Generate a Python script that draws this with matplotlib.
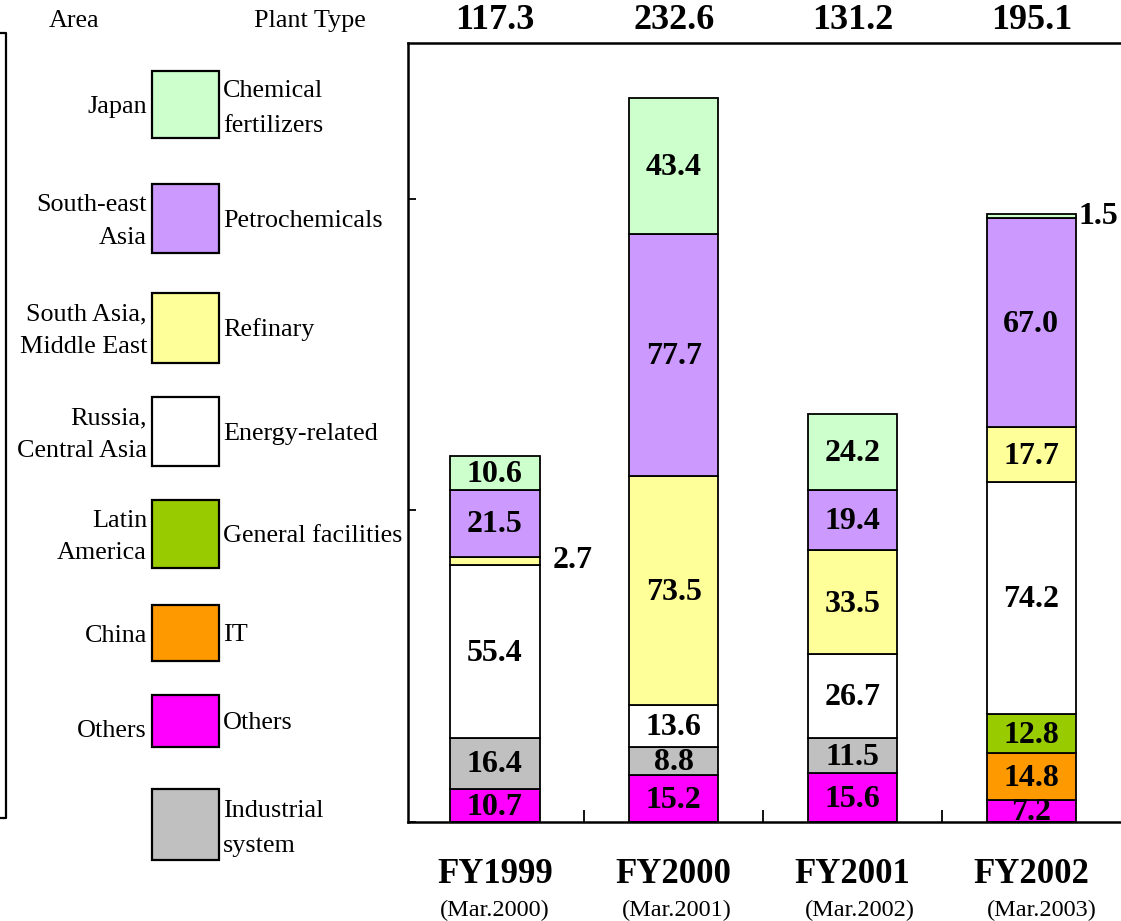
import matplotlib
matplotlib.use('Agg')
import matplotlib.pyplot as plt
import numpy as np
from matplotlib.patches import Rectangle
from matplotlib.lines import Line2D

plt.rcParams['font.family'] = ['Liberation Serif', 'DejaVu Serif']

# data
years = ['FY1999', 'FY2000', 'FY2001', 'FY2002']
periods = ['(Mar.2000)', '(Mar.2001)', '(Mar.2002)', '(Mar.2003)']
totals = [117.3, 232.6, 131.2, 195.1]

others = [10.7, 15.2, 15.6, 7.2]
industrial = [16.4, 8.8, 11.5, 0.0]
it_plant = [0.0, 0.0, 0.0, 14.8]
general = [0.0, 0.0, 0.0, 12.8]
energy = [55.4, 13.6, 26.7, 74.2]
refinary = [2.7, 73.5, 33.5, 17.7]
petrochem = [21.5, 77.7, 19.4, 67.0]
fertilizers = [10.6, 43.4, 24.2, 1.5]

# bottom -> top
series = [others, industrial, it_plant, general, energy, refinary, petrochem, fertilizers]
series_colors = ['#FF00FF', '#C0C0C0', '#FF9900', '#99CC00', '#FFFFFF',
                 '#FFFF99', '#CC99FF', '#CCFFCC']

# legend (top -> bottom)
plant_types = ['Chemical\nfertilizers', 'Petrochemicals', 'Refinary', 'Energy-related',
               'General facilities', 'IT', 'Others', 'Industrial\nsystem']
areas = ['Japan', 'South-east\nAsia', 'South Asia,\nMiddle East', 'Russia,\nCentral Asia',
         'Latin\nAmerica', 'China', 'Others', '']
legend_colors = ['#CCFFCC', '#CC99FF', '#FFFF99', '#FFFFFF', '#99CC00', '#FF9900',
                 '#FF00FF', '#C0C0C0']

W, H = 1121, 921
fig = plt.figure(figsize=(W / 100, H / 100), dpi=100)

# main chart
ax = fig.add_axes([408 / W, 1 - 822 / H, (1135 - 408) / W, (822 - 43) / H])
x = np.arange(len(years))
bw = 0.5
bottom = np.zeros(len(years))
for vals, col in zip(series, series_colors):
    vals = np.array(vals)
    ax.bar(x, vals, bw, bottom=bottom, color=col, edgecolor='black', linewidth=1.3,
           zorder=2)
    for i, v in enumerate(vals):
        if v <= 0:
            continue
        if v < 5:
            ax.text(x[i] + bw / 2 + 0.015 + (0.06 if i == 0 else 0), bottom[i] + v / 2,
                    f'{v:.1f}', ha='left', va='center', fontsize=23,
                    fontweight='bold', zorder=3)
        else:
            ax.text(x[i], bottom[i] + v / 2 - 0.6, f'{v:.1f}', ha='center',
                    va='center', fontsize=23, fontweight='bold', zorder=3,
                    clip_on=True)
    bottom += vals

ax.set_xlim(-0.486, 3.58)
ax.set_ylim(0, 250)
ax.set_xticks([0.5, 1.5, 2.5])
ax.set_xticklabels([])
ax.set_yticks([0, 100, 200])
ax.set_yticklabels([])
ax.tick_params(axis='x', direction='in', length=9, width=1.3)
ax.tick_params(axis='y', direction='in', length=6, width=1.3)
for s in ax.spines.values():
    s.set_linewidth(1.8)
ax.spines['right'].set_visible(False)

tr = ax.get_xaxis_transform()
for i in range(len(years)):
    ax.text(x[i], 1.0295, f'{totals[i]:.1f}', transform=tr, ha='center', va='center',
            fontsize=26, fontweight='bold')
    ax.text(x[i], -0.068, years[i], transform=tr, ha='center', va='center',
            fontsize=25, fontweight='bold')
    ax.text(x[i] + 0.02 * i, -0.113, periods[i], transform=tr, ha='center',
            va='center', fontsize=17.5)

# legend panel in pixel coords
lg = fig.add_axes([0, 0, 1, 1])
lg.set_xlim(0, W)
lg.set_ylim(H, 0)
lg.axis('off')
lg.set_zorder(-1)

fs = 18.8
lg.text(74, 21, 'Area', ha='center', va='center', fontsize=fs)
lg.text(310, 21, 'Plant Type', ha='center', va='center', fontsize=fs)

box_rows = [(71, 138), (184, 253), (293, 363), (397, 466), (500, 568),
            (605, 661), (695, 747), (789, 860)]
for (top, bot), col, pt, ar in zip(box_rows, legend_colors, plant_types, areas):
    lg.add_patch(Rectangle((152, top), 67, bot - top, facecolor=col,
                           edgecolor='black', linewidth=1.6))
    yc = (top + bot) / 2
    off = 4 if '\n' in pt else 2
    lg.text(223, yc + off, pt, ha='left', va='center', fontsize=fs, linespacing=1.78)
    if ar == 'Others':
        lg.text(147, yc + 10, ar, ha='right', va='center', fontsize=fs)
    elif ar:
        lg.text(147, yc + 3, ar, ha='right', va='center', fontsize=fs,
                linespacing=1.6)

lg.add_line(Line2D([0, 6, 6, 0], [33, 33, 818, 818], color='black', linewidth=1.6))

fig.savefig('out.png', dpi=100)
